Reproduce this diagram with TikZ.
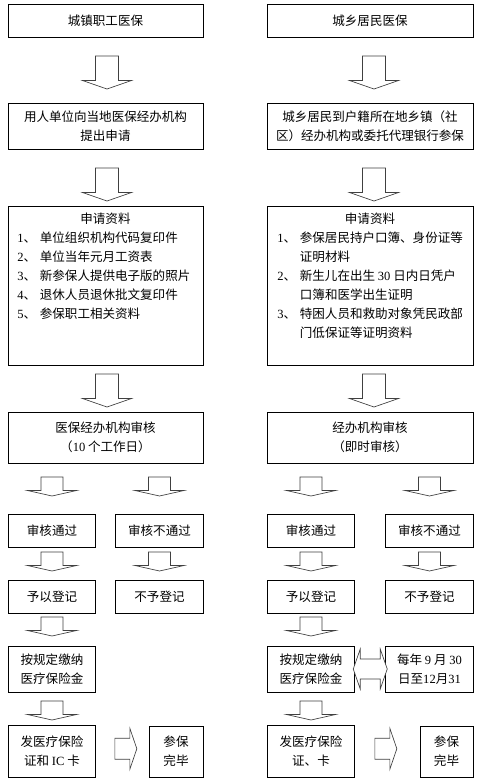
\documentclass[tikz,border=0pt]{standalone}
\usepackage{fontspec}
\setmainfont{Liberation Serif}
\newfontfamily\cjk{Noto Sans CJK SC}
\newfontfamily\lat{Liberation Serif}
\usetikzlibrary{calc}

\newcommand\itm[1]{\makebox[17pt][l]{{\lat #1}、}}
\newcommand\cont{\hspace*{17pt}}

\tikzset{
  box/.style={draw, line width=0.7pt, inner sep=0pt, align=center},
  wl/.style={box, minimum width=146.25pt},
  wr/.style={box, minimum width=154.5pt},
  sm/.style={box, minimum width=65.5pt},
  blk/.style={draw=black!75, line width=0.5pt, fill=white},
  bigdown/.pic={\draw[blk] (-11.5,-16.5) -- (11.5,-16.5) -- (11.5,8) -- (24.5,8) -- (0,16.5) -- (-24.5,8) -- (-11.5,8) -- cycle;},
  smalldown/.pic={\draw[blk] (-11,-9.5) -- (11,-9.5) -- (11,4) -- (24.5,4) -- (0,9.5) -- (-24.5,4) -- (-11,4) -- cycle;},
  rightblk/.pic={\draw[blk] (-11,-10.5) -- (4,-10.5) -- (4,-20.5) -- (11,0) -- (4,20.5) -- (4,10.5) -- (-11,10.5) -- cycle;},
  dblarr/.pic={\draw[blk] (-17,0) -- (-10,-20) -- (-10,-10) -- (10,-10) -- (10,-20) -- (17,0) -- (10,20) -- (10,10) -- (-10,10) -- (-10,20) -- cycle;},
}

\begin{document}
\begin{tikzpicture}[x=0.75pt, y=-0.75pt, every node/.style={font=\cjk\fontsize{9.4}{14.25}\selectfont}]
  \useasboundingbox[fill=white] (0,0) rectangle (488,783);

  % left column: urban employees
  \node[wl, minimum height=24.75pt] (zg) at (105.5,20.5) {城镇职工医保};
  \node[wl, minimum height=34.5pt] (zgsq) at (105.5,126) {用人单位向当地医保经办机构\\提出申请};
  \node[wl, minimum height=119.25pt] (zgzl) at (105.5,285.5) {};
  \node (zgzlt) at (105.5,219) {申请资料};
  \node[anchor=north west, align=left, inner sep=0pt] (zgzll) at (17,232)
    {\itm1单位组织机构代码复印件\\\itm2单位当年元月工资表\\\itm3新参保人提供电子版的照片\\\itm4退休人员退休批文复印件\\\itm5参保职工相关资料};
  \node[wl, minimum height=38.25pt] (zgsh) at (105.5,437.5) {医保经办机构审核\\（{\lat 10} 个工作日）};
  \node[sm, minimum height=24.75pt] (zgtg) at (52,530.5) {审核通过};
  \node[sm, minimum height=24.75pt] (zgbt) at (159.5,530.5) {审核不通过};
  \node[sm, minimum height=24.75pt] (zgdj) at (52,596.5) {予以登记};
  \node[sm, minimum height=24.75pt] (zgbd) at (159.5,596.5) {不予登记};
  \node[sm, minimum height=34.5pt] (zgjf) at (52,669) {按规定缴纳\\医疗保险金};
  \node[sm, minimum height=39pt] (zgfz) at (52,751) {发医疗保险\\证和 {\lat IC} 卡};
  \node[box, minimum width=40.5pt, minimum height=38.25pt] (zgwb) at (176,751.5) {参保\\完毕};

  % right column: urban and rural residents
  \node[wr, minimum height=24.75pt] (jm) at (370,20.5) {城乡居民医保};
  \node[wr, minimum height=34.5pt] (jmsq) at (370,126) {城乡居民到户籍所在地乡镇（社\\区）经办机构或委托代理银行参保};
  \node[wr, minimum height=119.25pt] (jmzl) at (370,285.5) {};
  \node (jmzlt) at (370,219) {申请资料};
  \node[anchor=north west, align=left, inner sep=0pt] (jmzll) at (277,232)
    {\itm1参保居民持户口簿、身份证等\\\cont 证明材料\\\itm2新生儿在出生 {\lat 30} 日内日凭户\\\cont 口簿和医学出生证明\\\itm3特困人员和救助对象凭民政部\\\cont 门低保证等证明资料};
  \node[wr, minimum height=38.25pt] (jmsh) at (370,437.5) {经办机构审核\\（即时审核）};
  \node[sm, minimum height=24.75pt] (jmtg) at (311,530.5) {审核通过};
  \node[sm, minimum height=24.75pt] (jmbt) at (429.5,530.5) {审核不通过};
  \node[sm, minimum height=24.75pt] (jmdj) at (311,596.5) {予以登记};
  \node[sm, minimum height=24.75pt] (jmbd) at (429.5,596.5) {不予登记};
  \node[sm, minimum height=34.5pt] (jmjf) at (311,669) {按规定缴纳\\医疗保险金};
  \node[sm, minimum height=34.5pt] (jmrq) at (429.5,669) {每年 {\lat 9} 月 {\lat 30}\\日至{\lat 12}月{\lat 31}};
  \node[sm, minimum height=39pt] (jmfz) at (311,751) {发医疗保险\\证、卡};
  \node[box, minimum width=39.75pt, minimum height=38.25pt] (jmwb) at (446.5,751.5) {参保\\完毕};

  % block arrows
  \foreach \a/\b/\dx/\dy in {zg/zgsq/1.5/2.5, zgsq/zgzl/1.5/7, zgzl/zgsh/1.5/2, jm/jmsq/4/2.5, jmsq/jmzl/4/7, jmzl/jmsh/4/2}
    \pic at ($(\a.south)!.5!(\b.north)+(\dx,\dy)$) {bigdown};
  \foreach \a/\b/\dy in {zgsh/zgtg/-2, zgsh/zgbt/-2, jmsh/jmtg/-2, jmsh/jmbt/-2,
                         zgtg/zgdj/-2, zgbt/zgbd/-2, jmtg/jmdj/-2, jmbt/jmbd/-2,
                         zgdj/zgjf/-3, jmdj/jmjf/-3, zgjf/zgfz/2, jmjf/jmfz/2}
    \pic at ($(\b.north |- \a.south)!.5!(\b.north)+(0,\dy)$) {smalldown};
  \pic at ($(zgfz.east)!.5!(zgwb.west)+(3.5,-2.5)$) {rightblk};
  \pic at ($(jmfz.east)!.5!(jmwb.west)+(-1.5,-2.5)$) {rightblk};
  \pic at ($(jmjf.east)!.5!(jmrq.west)$) {dblarr};
\end{tikzpicture}
\end{document}
